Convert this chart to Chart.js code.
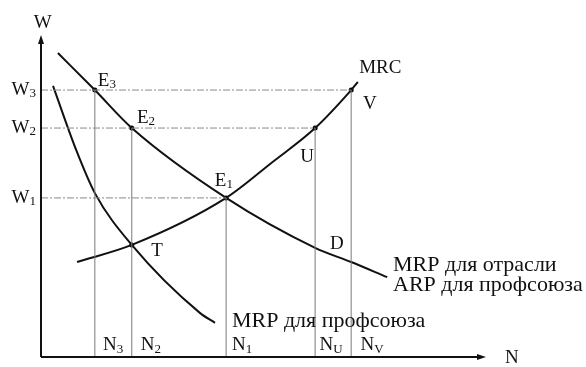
<!DOCTYPE html>
<html>
<head>
<meta charset="utf-8">
<script src="https://cdn.jsdelivr.net/npm/chart.js@4/dist/chart.umd.min.js"></script>
<style>
  body { margin: 0; background: #fff; }
  #wrap { width: 586px; height: 367px; }
</style>
</head>
<body>
<div id="wrap"><canvas id="chart" width="586" height="367"></canvas></div>
<script>
// key levels (arbitrary units, axes 0..10)
const nLevels = { N3: 1.21, N2: 2.04, N1: 4.16, NU: 6.16, NV: 6.97 };
const wLevels = { W1: 4.94, W2: 7.11, W3: 8.29 };

// curves
const mrpIndustryX = [0.38, 1.21, 2.04, 4.16, 6.16, 6.97, 7.78];
const mrpIndustryY = [9.44, 8.29, 7.11, 4.94, 3.39, 2.95, 2.48];

const mrcX = [0.81, 2.04, 4.16, 5.19, 6.16, 6.97, 7.12];
const mrcY = [2.95, 3.48, 4.94, 6.04, 7.11, 8.29, 8.54];

const mrpUnionX = [0.27, 0.79, 1.21, 2.04, 3.57, 3.91];
const mrpUnionY = [8.42, 6.43, 5.09, 3.48, 1.37, 1.06];

// marked points
const dotX = [1.21, 2.04, 4.16, 2.04, 6.16, 6.97];
const dotY = [8.29, 7.11, 4.94, 3.48, 7.11, 8.29];

// short labels: [text, subscript, x, y]
const pointLabels = [
  ["E", "3", 1.48, 8.57],
  ["E", "2", 2.36, 7.42],
  ["E", "1", 4.11, 5.47],
  ["T", "", 2.61, 3.29],
  ["U", "", 5.98, 6.21],
  ["V", "", 7.39, 7.86],
  ["D", "", 6.65, 3.51],
  ["N", "3", 1.62, 0.37],
  ["N", "2", 2.47, 0.37],
  ["N", "1", 4.52, 0.37],
  ["N", "U", 6.52, 0.37],
  ["N", "V", 7.44, 0.37],
  ["N", "", 10.58, -0.03],
  ["W", "", 0.04, 10.37]
];
// curve names, left aligned: [text, x, y, size]
const curveLabels = [
  ["MRC", 7.15, 8.98, 19],
  ["MRP для отрасли", 7.91, 2.86, 22],
  ["ARP для профсоюза", 7.91, 2.24, 22],
  ["MRP для профсоюза", 4.29, 1.12, 22]
];
const wTickLabels = [["W", "3", wLevels.W3], ["W", "2", wLevels.W2], ["W", "1", wLevels.W1]];

const FONT = "Liberation Serif";

function pts(xs, ys) { return xs.map((x, i) => ({ x: x, y: ys[i] })); }

function curve(xs, ys) {
  return {
    data: pts(xs, ys),
    showLine: true,
    borderColor: "#111",
    borderWidth: 2,
    pointRadius: 0,
    cubicInterpolationMode: "monotone",
    fill: false
  };
}

function guide(x1, y1, x2, y2, dashed) {
  return {
    data: [{ x: x1, y: y1 }, { x: x2, y: y2 }],
    showLine: true,
    borderColor: dashed ? "#8a8a8a" : "#7a7a7a",
    borderWidth: 1,
    borderDash: dashed ? [7, 2, 2, 2] : [],
    pointRadius: 0,
    fill: false
  };
}

const datasets = [
  guide(0, wLevels.W3, nLevels.NV, wLevels.W3, true),
  guide(0, wLevels.W2, nLevels.NU, wLevels.W2, true),
  guide(0, wLevels.W1, nLevels.N1, wLevels.W1, true),
  guide(nLevels.N3, 0, nLevels.N3, wLevels.W3, false),
  guide(nLevels.N2, 0, nLevels.N2, wLevels.W2, false),
  guide(nLevels.N1, 0, nLevels.N1, wLevels.W1, false),
  guide(nLevels.NU, 0, nLevels.NU, wLevels.W2, false),
  guide(nLevels.NV, 0, nLevels.NV, wLevels.W3, false),
  curve(mrpIndustryX, mrpIndustryY),
  curve(mrcX, mrcY),
  curve(mrpUnionX, mrpUnionY),
  {
    data: pts(dotX, dotY),
    showLine: false,
    pointRadius: 2.5,
    pointBackgroundColor: "#000",
    pointBorderWidth: 0
  }
];

function drawSub(ctx, main, sub, x, y, align) {
  ctx.font = "19px '" + FONT + "'";
  const wMain = ctx.measureText(main).width;
  ctx.font = "13px '" + FONT + "'";
  const wSub = sub ? ctx.measureText(sub).width : 0;
  const total = wMain + wSub;
  let left = x;
  if (align === "center") left = x - total / 2;
  else if (align === "right") left = x - total;
  ctx.textAlign = "left";
  ctx.textBaseline = "middle";
  ctx.fillStyle = "#111";
  ctx.font = "19px '" + FONT + "'";
  ctx.fillText(main, left, y);
  if (sub) {
    ctx.font = "13px '" + FONT + "'";
    ctx.fillText(sub, left + wMain, y + 4);
  }
}

const diagramPlugin = {
  id: "diagram",
  afterDatasetsDraw(chart) {
    const ctx = chart.ctx;
    const xs = chart.scales.x, ys = chart.scales.y;
    const x0 = xs.getPixelForValue(0), y0 = ys.getPixelForValue(0);
    const xEnd = xs.getPixelForValue(10), yEnd = ys.getPixelForValue(10);
    ctx.save();
    ctx.strokeStyle = "#111";
    ctx.fillStyle = "#111";
    ctx.lineWidth = 2;
    // axes
    ctx.beginPath();
    ctx.moveTo(x0, y0);
    ctx.lineTo(x0, yEnd + 6);
    ctx.moveTo(x0, y0);
    ctx.lineTo(xEnd - 6, y0);
    ctx.stroke();
    // arrow heads
    ctx.beginPath();
    ctx.moveTo(x0, yEnd);
    ctx.lineTo(x0 - 3, yEnd + 9);
    ctx.lineTo(x0 + 3, yEnd + 9);
    ctx.closePath();
    ctx.fill();
    ctx.beginPath();
    ctx.moveTo(xEnd, y0);
    ctx.lineTo(xEnd - 9, y0 - 3);
    ctx.lineTo(xEnd - 9, y0 + 3);
    ctx.closePath();
    ctx.fill();

    pointLabels.forEach(l => {
      drawSub(ctx, l[0], l[1], xs.getPixelForValue(l[2]), ys.getPixelForValue(l[3]), "center");
    });
    wTickLabels.forEach(l => {
      drawSub(ctx, l[0], l[1], x0 - 5, ys.getPixelForValue(l[2]), "right");
    });
    ctx.textAlign = "left";
    ctx.textBaseline = "middle";
    curveLabels.forEach(l => {
      ctx.font = l[3] + "px '" + FONT + "'";
      ctx.fillText(l[0], xs.getPixelForValue(l[1]), ys.getPixelForValue(l[2]));
    });
    ctx.restore();
  }
};

new Chart(document.getElementById("chart"), {
  type: "scatter",
  data: { datasets: datasets },
  options: {
    responsive: false,
    animation: false,
    layout: { padding: { left: 41, right: 100, top: 35, bottom: 10 } },
    plugins: { legend: { display: false }, tooltip: { enabled: false } },
    scales: {
      x: { type: "linear", min: 0, max: 10, display: false },
      y: { type: "linear", min: 0, max: 10, display: false }
    }
  },
  plugins: [diagramPlugin]
});
</script>
</body>
</html>
